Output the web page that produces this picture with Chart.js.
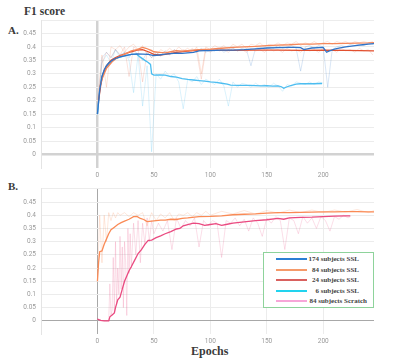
<!DOCTYPE html>
<html lang="en">
  <head>
    <meta charset="UTF-8" />
    <title>F1 score</title>
    <script src="https://cdn.jsdelivr.net/npm/chart.js"></script>
    <style>
      body {
        margin: 0;
        width: 400px;
        height: 363px;
        background: #fff;
        position: relative;
        overflow: hidden;
        font-family: "Liberation Serif", serif;
      }
      .lbl {
        position: absolute;
        font-weight: bold;
        color: #3a3a3a;
        line-height: 1;
        white-space: nowrap;
      }
      canvas {
        position: absolute;
        left: 0;
      }
      #legend {
        position: absolute;
        left: 263px;
        top: 252px;
        width: 109px;
        height: 54px;
        border: 1px solid #8ed39b;
        background: #fff;
      }
      .row {
        position: absolute;
        left: 0;
        height: 10px;
        width: 109px;
        font-size: 7px;
        font-weight: bold;
        color: #444;
      }
      .row span.sw {
        position: absolute;
        left: 12px;
        top: 4px;
        width: 31px;
        height: 2px;
      }
      .row span.tx {
        position: absolute;
        top: 0;
        line-height: 10px;
        white-space: nowrap;
      }
    </style>
  </head>
  <body>
    <div class="lbl" style="left:24px;top:6px;font-size:11.5px">F1 score</div>
    <div class="lbl" style="left:8px;top:25px;font-size:11px">A.</div>
    <div class="lbl" style="left:8px;top:181px;font-size:11px">B.</div>
    <div class="lbl" style="left:191px;top:345px;font-size:12px">Epochs</div>

    <canvas id="chartA" width="400" height="180" style="top:0"></canvas>
    <canvas id="chartB" width="400" height="166" style="top:180px"></canvas>

    <div id="legend"></div>

    <script>
      // legend
      const legendNames = ["174 subjects SSL", "84 subjects SSL", "24 subjects SSL", "6 subjects SSL", "84 subjects Scratch"];
      const legendColors = ["#2a7fd4", "#f59a6a", "#d9615f", "#22d3ee", "#f7a6d8"];

      // panel A: smoothed runs
      const blueEpochs = [0, 2, 4, 6, 8, 10, 13, 16, 20, 25, 30, 35, 40, 45, 50, 55, 60, 65, 70, 75, 80, 85, 90, 95, 100, 110, 120, 130, 140, 150, 160, 170, 175, 180, 183, 186, 190, 200, 203, 205, 210, 215, 220, 225, 230, 235, 240, 245];
      const blueF1 = [0.15, 0.24, 0.29, 0.315, 0.33, 0.34, 0.35, 0.357, 0.363, 0.368, 0.372, 0.374, 0.373, 0.372, 0.368, 0.37, 0.373, 0.375, 0.377, 0.376, 0.378, 0.38, 0.385, 0.386, 0.386, 0.388, 0.388, 0.39, 0.393, 0.396, 0.397, 0.398, 0.398, 0.397, 0.39, 0.393, 0.396, 0.398, 0.38, 0.384, 0.392, 0.396, 0.4, 0.403, 0.406, 0.408, 0.41, 0.412];

      const orangeEpochs = [2, 4, 6, 8, 10, 13, 16, 20, 25, 30, 35, 40, 43, 47, 50, 55, 60, 65, 70, 75, 80, 85, 90, 100, 110, 120, 130, 140, 150, 160, 170, 180, 190, 200, 210, 220, 230, 240, 245];
      const orangeF1 = [0.25, 0.28, 0.3, 0.32, 0.33, 0.345, 0.355, 0.365, 0.375, 0.385, 0.39, 0.398, 0.395, 0.388, 0.382, 0.38, 0.378, 0.382, 0.386, 0.384, 0.386, 0.388, 0.39, 0.392, 0.395, 0.398, 0.4, 0.402, 0.405, 0.407, 0.408, 0.41, 0.41, 0.412, 0.412, 0.413, 0.414, 0.415, 0.416];

      const redEpochs = [1, 3, 5, 8, 12, 16, 20, 25, 30, 35, 40, 45, 50, 55, 60, 70, 80, 90, 100, 120, 140, 160, 180, 200, 220, 245];
      const redF1 = [0.2, 0.26, 0.3, 0.33, 0.35, 0.36, 0.368, 0.375, 0.382, 0.388, 0.39, 0.382, 0.372, 0.37, 0.372, 0.38, 0.384, 0.388, 0.388, 0.387, 0.388, 0.388, 0.387, 0.388, 0.387, 0.385];

      const cyanEpochs = [0, 2, 4, 6, 8, 10, 13, 16, 20, 25, 30, 35, 38, 42, 45, 47, 48, 50, 55, 60, 65, 70, 75, 80, 85, 90, 95, 100, 105, 110, 115, 118, 125, 135, 145, 150, 155, 160, 163, 165, 168, 172, 176, 180, 190, 199];
      const cyanF1 = [0.15, 0.24, 0.29, 0.31, 0.325, 0.335, 0.348, 0.356, 0.362, 0.368, 0.372, 0.372, 0.362, 0.35, 0.342, 0.335, 0.3, 0.295, 0.296, 0.295, 0.29, 0.288, 0.282, 0.279, 0.277, 0.275, 0.273, 0.27, 0.268, 0.265, 0.262, 0.258, 0.257, 0.257, 0.255, 0.256, 0.254, 0.255, 0.252, 0.246, 0.252, 0.257, 0.262, 0.263, 0.263, 0.264];

      // panel A: raw runs (faint)
      const rawEpochsA = [0, 4, 8, 12, 16, 20, 24, 28, 32, 36, 40, 44, 48, 52, 56, 60, 64, 68, 72, 76, 80, 84, 88, 92, 96, 100, 104, 108, 112, 116, 120, 124, 128, 132, 136, 140, 144, 148, 152, 156, 160, 164, 168, 172, 176, 180, 184, 188, 192, 196, 200, 204, 208, 212, 216, 220, 224, 228, 232, 236, 240, 244];
      const blueRaw = [0.15, 0.36, 0.38, 0.36, 0.39, 0.37, 0.38, 0.36, 0.39, 0.37, 0.35, 0.38, 0.36, 0.38, 0.37, 0.385, 0.37, 0.39, 0.375, 0.385, 0.38, 0.39, 0.38, 0.395, 0.38, 0.39, 0.385, 0.395, 0.38, 0.39, 0.395, 0.385, 0.395, 0.39, 0.33, 0.395, 0.4, 0.39, 0.4, 0.395, 0.405, 0.395, 0.4, 0.405, 0.395, 0.31, 0.4, 0.405, 0.395, 0.405, 0.4, 0.25, 0.39, 0.4, 0.405, 0.4, 0.41, 0.405, 0.41, 0.405, 0.415, 0.41];
      const orangeRaw = [0.2, 0.37, 0.25, 0.4, 0.39, 0.405, 0.38, 0.4, 0.41, 0.39, 0.405, 0.37, 0.39, 0.37, 0.39, 0.38, 0.395, 0.38, 0.4, 0.385, 0.395, 0.38, 0.4, 0.3, 0.4, 0.39, 0.405, 0.395, 0.405, 0.39, 0.41, 0.4, 0.41, 0.395, 0.41, 0.405, 0.415, 0.4, 0.41, 0.405, 0.415, 0.405, 0.415, 0.41, 0.42, 0.405, 0.415, 0.41, 0.42, 0.41, 0.415, 0.42, 0.41, 0.42, 0.415, 0.42, 0.41, 0.42, 0.415, 0.42, 0.415, 0.42];
      const redRaw = [0.18, 0.34, 0.38, 0.36, 0.39, 0.37, 0.4, 0.29, 0.4, 0.39, 0.27, 0.38, 0.36, 0.38, 0.365, 0.385, 0.37, 0.39, 0.38, 0.39, 0.38, 0.395, 0.38, 0.28, 0.39, 0.38, 0.395, 0.385, 0.39, 0.38, 0.395, 0.385, 0.39, 0.38, 0.395, 0.385, 0.39, 0.38, 0.395, 0.385, 0.39, 0.38, 0.395, 0.385, 0.39, 0.38, 0.395, 0.385, 0.39, 0.38, 0.395, 0.385, 0.39, 0.38, 0.395, 0.385, 0.39, 0.38, 0.395, 0.385, 0.39, 0.37];
      const cyanRaw = [0.15, 0.34, 0.37, 0.34, 0.39, 0.36, 0.38, 0.35, 0.23, 0.37, 0.18, 0.33, 0.01, 0.3, 0.28, 0.31, 0.29, 0.3, 0.27, 0.17, 0.28, 0.27, 0.29, 0.26, 0.28, 0.27, 0.26, 0.28, 0.255, 0.18, 0.27, 0.25, 0.265, 0.26, 0.25, 0.265, 0.255, 0.26, 0.25, 0.265, 0.255, 0.235, 0.26, 0.255, 0.27, 0.265, 0.26, 0.27, 0.26, 0.27, 0.265];

      // panel B
      const orangeBEpochs = [0, 1, 2, 4, 6, 8, 10, 12, 15, 18, 21, 24, 28, 32, 35, 38, 41, 44, 48, 52, 56, 60, 65, 70, 75, 80, 90, 100, 110, 120, 130, 140, 150, 160, 170, 180, 190, 200, 210, 220, 230, 240, 245];
      const orangeBF1 = [0.15, 0.22, 0.262, 0.265, 0.29, 0.31, 0.33, 0.345, 0.355, 0.365, 0.372, 0.378, 0.385, 0.395, 0.396, 0.388, 0.384, 0.376, 0.378, 0.38, 0.382, 0.382, 0.385, 0.384, 0.388, 0.39, 0.395, 0.396, 0.398, 0.402, 0.404, 0.405, 0.408, 0.41, 0.41, 0.411, 0.412, 0.413, 0.413, 0.414, 0.414, 0.413, 0.413];
      const scratchEpochs = [0, 3, 6, 10, 11, 13, 15, 16, 18, 20, 22, 24, 26, 28, 30, 33, 36, 39, 42, 45, 48, 52, 56, 60, 65, 70, 73, 76, 80, 85, 90, 95, 100, 105, 110, 115, 120, 130, 140, 150, 160, 165, 170, 180, 190, 200, 210, 220, 224];
      const scratchF1 = [0.006, 0.002, 0.0, 0.0, 0.015, 0.022, 0.03, 0.05, 0.08, 0.09, 0.12, 0.15, 0.17, 0.19, 0.205, 0.23, 0.255, 0.27, 0.29, 0.305, 0.306, 0.315, 0.322, 0.33, 0.338, 0.348, 0.35, 0.36, 0.365, 0.37, 0.368, 0.362, 0.365, 0.368, 0.362, 0.366, 0.37, 0.375, 0.38, 0.383, 0.388, 0.385, 0.39, 0.392, 0.393, 0.395, 0.397, 0.398, 0.398];

      const orangeBRawEpochs = [0, 2, 4, 6, 8, 10, 12, 14, 16, 18, 20, 24, 28, 32, 36, 40, 44, 48, 52, 56, 60, 64, 68, 72, 76, 80, 84, 88, 92, 96, 100, 110, 120, 130, 140, 150, 160, 170, 180, 190, 200, 210, 220, 230, 240, 245];
      const orangeBRaw = [0.15, 0.4, 0.22, 0.4, 0.3, 0.41, 0.38, 0.41, 0.39, 0.41, 0.4, 0.41, 0.395, 0.41, 0.4, 0.41, 0.36, 0.41, 0.38, 0.405, 0.39, 0.41, 0.38, 0.405, 0.4, 0.41, 0.395, 0.41, 0.4, 0.415, 0.4, 0.415, 0.405, 0.418, 0.405, 0.418, 0.408, 0.42, 0.41, 0.42, 0.41, 0.42, 0.412, 0.422, 0.41, 0.418];
      const scratchRawEpochs = [0, 2, 4, 6, 8, 10, 11, 12, 13, 14, 15, 16, 17, 18, 19, 20, 21, 22, 23, 24, 25, 26, 27, 28, 29, 30, 32, 34, 36, 38, 40, 42, 44, 46, 48, 50, 54, 58, 62, 66, 70, 74, 78, 82, 86, 90, 94, 98, 102, 106, 110, 114, 118, 122, 126, 130, 134, 138, 142, 146, 150, 154, 158, 162, 166, 170, 174, 178, 182, 186, 190, 194, 198, 202, 206, 210, 214, 218, 222, 224];
      const scratchRaw = [0.01, 0.0, 0.0, 0.0, 0.0, 0.0, 0.14, 0.02, 0.04, 0.24, 0.03, 0.3, 0.06, 0.2, 0.1, 0.32, 0.12, 0.28, 0.05, 0.3, 0.22, 0.02, 0.35, 0.18, 0.33, 0.2, 0.37, 0.25, 0.38, 0.22, 0.37, 0.29, 0.39, 0.3, 0.38, 0.33, 0.37, 0.34, 0.38, 0.27, 0.39, 0.35, 0.38, 0.36, 0.39, 0.28, 0.38, 0.36, 0.38, 0.37, 0.24, 0.38, 0.37, 0.39, 0.36, 0.385, 0.34, 0.39, 0.37, 0.32, 0.39, 0.37, 0.395, 0.38, 0.27, 0.39, 0.38, 0.33, 0.395, 0.37, 0.39, 0.35, 0.395, 0.38, 0.34, 0.395, 0.385, 0.4, 0.39, 0.395];

      const pts = (xs, ys) => xs.map((x, i) => ({ x: x, y: ys[i] }));

      function smooth(label, xs, ys, color) {
        return { label, data: pts(xs, ys), borderColor: color, borderWidth: 1.3, pointRadius: 0, tension: 0 };
      }
      function raw(label, xs, ys, color) {
        return { label, data: pts(xs, ys), borderColor: color, borderWidth: 1, pointRadius: 0, tension: 0 };
      }

      function makeOptions(padTop, zeroColor, zeroWidth) {
        const tickFont = { family: "Roboto", size: 6.5 };
        return {
          responsive: false,
          animation: false,
          devicePixelRatio: 1,
          layout: { padding: { top: padTop, right: 26, left: 0, bottom: 0 } },
          plugins: { legend: { display: false }, tooltip: { enabled: false } },
          scales: {
            x: {
              type: "linear",
              min: -50,
              max: 245,
              border: { display: false },
              ticks: {
                stepSize: 50,
                includeBounds: false,
                color: "#9a9a9a",
                font: tickFont,
                padding: 3,
                maxRotation: 0,
                callback: (v) => (v < 0 ? "" : String(v)),
              },
              grid: {
                drawTicks: false,
                color: (c) => (c.tick && c.tick.value === 0 ? zeroColor : "#ececec"),
                lineWidth: (c) => (c.tick && c.tick.value === 0 ? zeroWidth : 1),
              },
              afterFit: (s) => {
                s.height = 12;
              },
            },
            y: {
              min: -0.05,
              max: 0.5,
              border: { display: true, color: "#e4e4e4" },
              ticks: {
                stepSize: 0.05,
                color: "#9a9a9a",
                font: tickFont,
                padding: 5,
                callback: (v) => (v < -0.001 || v > 0.47 ? "" : String(+v.toFixed(2))),
              },
              grid: {
                drawTicks: false,
                color: (c) => {
                  if (!c.tick) return "#ececec";
                  if (Math.abs(c.tick.value) < 1e-6) return zeroColor;
                  if (c.tick.value < -0.01) return "rgba(0,0,0,0)";
                  return "#ececec";
                },
                lineWidth: (c) => (c.tick && Math.abs(c.tick.value) < 1e-6 ? zeroWidth : 1),
              },
              afterFit: (s) => {
                s.width = 41;
              },
            },
          },
        };
      }

      new Chart(document.getElementById("chartA"), {
        type: "line",
        data: {
          datasets: [
            smooth("174 subjects SSL", blueEpochs, blueF1, "#2f74c8"),
            smooth("84 subjects SSL", orangeEpochs, orangeF1, "#f5875a"),
            smooth("24 subjects SSL", redEpochs, redF1, "#e2502f"),
            smooth("6 subjects SSL", cyanEpochs, cyanF1, "#4cbdf0"),
            raw("174 raw", rawEpochsA, blueRaw, "rgba(47,116,200,0.18)"),
            raw("84 raw", rawEpochsA, orangeRaw, "rgba(245,135,90,0.22)"),
            raw("24 raw", rawEpochsA, redRaw, "rgba(226,80,47,0.16)"),
            raw("6 raw", rawEpochsA.slice(0, cyanRaw.length), cyanRaw, "rgba(76,189,240,0.2)"),
          ],
        },
        options: makeOptions(20, "#d2d2d2", 2.5),
      });

      new Chart(document.getElementById("chartB"), {
        type: "line",
        data: {
          datasets: [
            smooth("84 subjects SSL", orangeBEpochs, orangeBF1, "#fa8a55"),
            smooth("84 subjects Scratch", scratchEpochs, scratchF1, "#ea4a80"),
            raw("84 raw", orangeBRawEpochs, orangeBRaw, "rgba(250,138,85,0.2)"),
            raw("scratch raw", scratchRawEpochs, scratchRaw, "rgba(234,74,128,0.18)"),
          ],
        },
        options: makeOptions(5, "#a8a8a8", 1),
      });

      // legend box: line swatch on the left, label on the right
      const legend = document.getElementById("legend");
      const textRight = [14, 14, 14, 14, 6];
      const rowTops = [1, 12, 22, 33, 43];
      legendNames.forEach((name, i) => {
        const row = document.createElement("div");
        row.className = "row";
        row.style.top = rowTops[i] + "px";
        row.innerHTML =
          '<span class="sw" style="background:' + legendColors[i] + '"></span>' +
          '<span class="tx" style="right:' + textRight[i] + 'px">' + name + "</span>";
        legend.appendChild(row);
      });
    </script>
  </body>
</html>
